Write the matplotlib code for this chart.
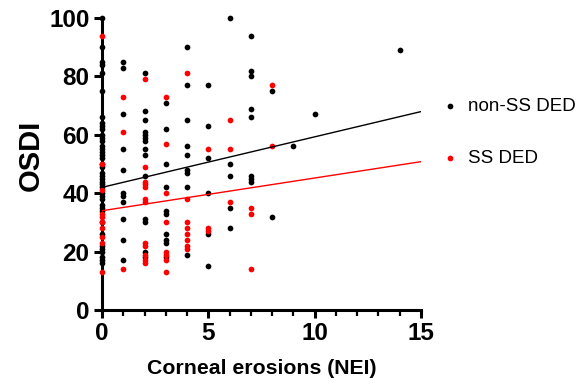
import numpy as np
import matplotlib
matplotlib.use("Agg")
import matplotlib.pyplot as plt
from matplotlib.ticker import MultipleLocator

plt.rcParams['font.family'] = ['Liberation Sans', 'DejaVu Sans']

# corneal erosion score (NEI) and OSDI values at each score
nonss_nei = [0, 1, 2, 3, 4, 5, 6, 7, 8, 9, 10, 14]
nonss_osdi = [
    [100, 90, 85, 84, 81, 75, 66, 64, 63, 62, 60, 59, 58, 56, 55, 54, 53, 52, 50, 49,
     47, 46, 45, 44, 43, 42, 40, 39, 38, 36, 35, 34, 30, 26, 22, 21, 20, 18, 17, 16],
    [85, 83, 67, 55, 48, 40, 39, 37, 31, 24, 17],
    [81, 68, 65, 61, 60, 59, 58, 55, 53, 46, 31, 30, 20, 18],
    [71, 62, 50, 42, 34, 33, 26, 24, 23, 18],
    [90, 77, 65, 56, 53, 48, 47, 42, 19],
    [77, 63, 52, 40, 26, 15],
    [100, 50, 46, 35, 28],
    [94, 82, 80, 69, 66, 46, 45, 44],
    [75, 32],
    [56],
    [67],
    [89],
]

ss_nei = [0, 1, 2, 3, 4, 5, 6, 7, 8]
ss_osdi = [
    [94, 50, 41, 33, 32, 30, 28, 25, 23, 13],
    [73, 61, 14],
    [79, 49, 44, 43, 42, 38, 37, 23, 22, 19, 17, 16],
    [73, 57, 40, 30, 20, 19, 17, 13],
    [81, 38, 30, 28, 26, 24, 22, 21],
    [55, 28, 27],
    [65, 55, 37],
    [35, 33, 14],
    [77, 56],
]

# linear fits (intercept, slope) as shown
nonss_fit = [42.0, 1.73]
ss_fit = [34.0, 1.12]


def expand(levels, groups):
    xs, ys = [], []
    for lv, vals in zip(levels, groups):
        xs += [lv] * len(vals)
        ys += vals
    return np.array(xs), np.array(ys)


nx, ny = expand(nonss_nei, nonss_osdi)
sx, sy = expand(ss_nei, ss_osdi)

fig = plt.figure(figsize=(5.78, 3.84), dpi=100)
ax = fig.add_axes([102 / 578, 74 / 384, 319 / 578, 292 / 384])

xfit = np.array([0, 15])
ax.plot(xfit, nonss_fit[0] + nonss_fit[1] * xfit, color='black', lw=1.0, zorder=4)
ax.plot(xfit, ss_fit[0] + ss_fit[1] * xfit, color='red', lw=1.0, zorder=4)

ax.scatter(nx, ny, s=17, color='black', zorder=3, clip_on=False,
           linewidths=0, label='non-SS DED')
ax.scatter(sx, sy, s=17, color='red', zorder=3, clip_on=False,
           linewidths=0, label='SS DED')

ax.set_xlim(0, 15)
ax.set_ylim(0, 100)
ax.xaxis.set_major_locator(MultipleLocator(5))
ax.xaxis.set_minor_locator(MultipleLocator(1))
ax.yaxis.set_major_locator(MultipleLocator(20))

for s in ['top', 'right']:
    ax.spines[s].set_visible(False)
for s in ['left', 'bottom']:
    ax.spines[s].set_linewidth(2.2)

ax.tick_params(axis='both', which='major', length=6, width=2.2, labelsize=17.5, pad=3)
ax.tick_params(axis='x', which='minor', length=4, width=1.6)
for lab in ax.get_xticklabels() + ax.get_yticklabels():
    lab.set_fontweight('bold')

ax.set_xlabel('Corneal erosions (NEI)', fontsize=15.3, fontweight='bold', labelpad=10)
ax.set_ylabel('OSDI', fontsize=21, fontweight='bold')
ax.yaxis.set_label_coords(-0.18, 0.53)

ax.legend(loc='upper left', bbox_to_anchor=(1.072, 0.727), frameon=False,
          fontsize=13.5, labelspacing=1.87, handlelength=0.6, handletextpad=0.67,
          markerscale=1.0, borderaxespad=0, borderpad=0)

fig.savefig('out.png', dpi=100)
